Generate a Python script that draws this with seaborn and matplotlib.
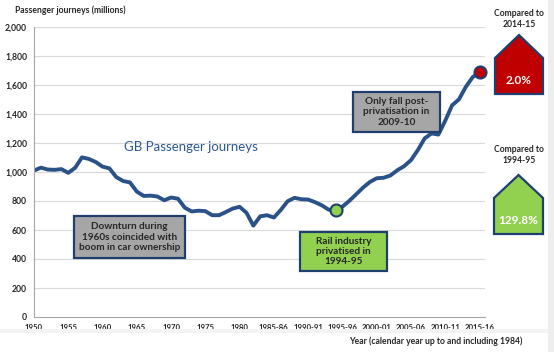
import numpy as np
import pandas as pd
import matplotlib
matplotlib.use("Agg")
import matplotlib.pyplot as plt
from matplotlib.patches import Polygon, Rectangle
import seaborn as sns

# data (millions of passenger journeys)
years = [str(y) for y in range(1950, 1985)] + [
    "1985-86", "1986-87", "1987-88", "1988-89", "1989-90", "1990-91", "1991-92",
    "1992-93", "1993-94", "1994-95", "1995-96", "1996-97", "1997-98", "1998-99",
    "1999-00", "2000-01", "2001-02", "2002-03", "2003-04", "2004-05", "2005-06",
    "2006-07", "2007-08", "2008-09", "2009-10", "2010-11", "2011-12", "2012-13",
    "2013-14", "2014-15", "2015-16"]
journeys = [1010, 1030, 1017, 1015, 1020, 994, 1029, 1101, 1090, 1069,
            1037, 1025, 965, 938, 928, 865, 835, 837, 831, 805,
            824, 816, 754, 728, 733, 730, 702, 702, 724, 748,
            760, 719, 630, 694, 702,
            686, 738, 798, 822, 812, 810, 792, 770, 740, 735,
            761, 801, 846, 892, 931, 957, 960, 976, 1012, 1040,
            1082, 1151, 1232, 1266, 1258, 1354, 1460, 1501, 1587, 1654,
            1687]
tick_labels = ["1950", "1955", "1960", "1965", "1970", "1975", "1980", "1985-86",
               "1990-91", "1995-96", "2000-01", "2005-06", "2010-11", "2015-16"]
change_2014 = "2.0%"
change_1994 = "129.8%"

df = pd.DataFrame({"idx": np.arange(len(years)), "year": years, "journeys": journeys})

sns.set_style("white")
plt.rcParams['font.family'] = ['Lato', 'DejaVu Sans']

W, H = 554, 352
fig = plt.figure(figsize=(W / 100, H / 100), dpi=100)
ax = fig.add_axes([34 / W, 1 - 317 / H, (485 - 34) / W, (317 - 27) / H])

navy = "#2B5797"
edge = "#1F3F6E"
sns.lineplot(data=df, x="idx", y="journeys", ax=ax, color="#2A5289", lw=2.8)

# highlighted points
p94 = df[df.year == "1994-95"]
p15 = df[df.year == "2015-16"]
ax.scatter(p94.idx, p94.journeys, s=75, color="#92D050", edgecolor=edge, lw=1.5, zorder=5)
ax.scatter(p15.idx, p15.journeys, s=75, color="#C00000", edgecolor=edge, lw=1.5, zorder=5, clip_on=False)

ax.set_xlim(0, 65.8)
ax.set_ylim(0, 2000)
ax.set_yticks(range(0, 2001, 200))
ax.set_yticklabels([f"{v:,}" for v in range(0, 2001, 200)], fontsize=6.2, fontweight="bold")
ax.set_xticks(range(0, len(years), 5))
ax.set_xticklabels(tick_labels, fontsize=5.6, fontweight="bold")
ax.set_xlabel("")
ax.set_ylabel("")
ax.grid(axis="y", color="#D9D9D9", lw=0.8)
ax.set_axisbelow(True)
for s in ["top", "right"]:
    ax.spines[s].set_visible(False)
for s in ["left", "bottom"]:
    ax.spines[s].set_color("#A6A6A6")
    ax.spines[s].set_linewidth(0.8)
ax.tick_params(axis="both", length=3, width=0.8, color="#A6A6A6", pad=2)


def fx(px):
    return px / W


def fy(py):
    return 1 - py / H


fig.text(fx(15), fy(10), "Passenger journeys (millions)", fontsize=6.2, fontweight="bold",
         va="center", ha="left")
fig.text(fx(522), fy(341), "Year (calendar year up to and including 1984)", fontsize=6.2,
         fontweight="bold", va="center", ha="right")
fig.text(fx(191), fy(147), "GB Passenger journeys", fontsize=9.5, color=navy,
         va="center", ha="center")


def box(x0, y0, x1, y1, color, text):
    fig.patches.append(Rectangle((fx(x0), fy(y1)), (x1 - x0) / W, (y1 - y0) / H,
                                 transform=fig.transFigure, facecolor=color,
                                 edgecolor=edge, lw=1.6, zorder=3))
    fig.text(fx((x0 + x1) / 2), fy((y0 + y1) / 2), text, fontsize=7.2, fontweight="bold",
             ha="center", va="center", linespacing=1.2, zorder=4)


box(74, 216, 185, 258, "#A6A6A6", "Downturn during\n1960s coincided with\nboom in car ownership")
box(300, 232, 387, 271, "#92D050", "Rail industry\nprivatised in\n1994-95")
box(353, 92, 440, 132, "#A6A6A6", "Only fall post-\nprivatisation in\n2009-10")


def house(x0, x1, ytop, yshoulder, ybottom, color, text):
    pts = [(fx(x0), fy(ybottom)), (fx(x1), fy(ybottom)), (fx(x1), fy(yshoulder)),
           (fx((x0 + x1) / 2), fy(ytop)), (fx(x0), fy(yshoulder))]
    fig.patches.append(Polygon(pts, closed=True, transform=fig.transFigure,
                               facecolor=color, edgecolor=edge, lw=1.6))
    fig.text(fx((x0 + x1) / 2), fy((yshoulder + ybottom) / 2 + 4), text, color="white",
             fontsize=8.5, fontweight="bold", ha="center", va="center")


fig.text(fx(519), fy(19), "Compared to\n2014-15", fontsize=6.2, fontweight="bold",
         ha="center", va="center", linespacing=1.3)
house(495, 543, 35, 58, 94, "#C00000", change_2014)
fig.text(fx(519), fy(155), "Compared to\n1994-95", fontsize=6.2, fontweight="bold",
         ha="center", va="center", linespacing=1.3)
house(494, 543, 175, 198, 234, "#92D050", change_1994)

# faint frame strips like the source screenshot
fig.patches.append(Rectangle((fx(548), 0), 6 / W, 1, transform=fig.transFigure,
                             facecolor="#EEEEEE", edgecolor="none", zorder=0))
fig.patches.append(Rectangle((0, fy(333)), fx(548), 4 / H, transform=fig.transFigure,
                             facecolor="#F3F3F3", edgecolor="none", zorder=0))

fig.savefig("out.png", dpi=100)
